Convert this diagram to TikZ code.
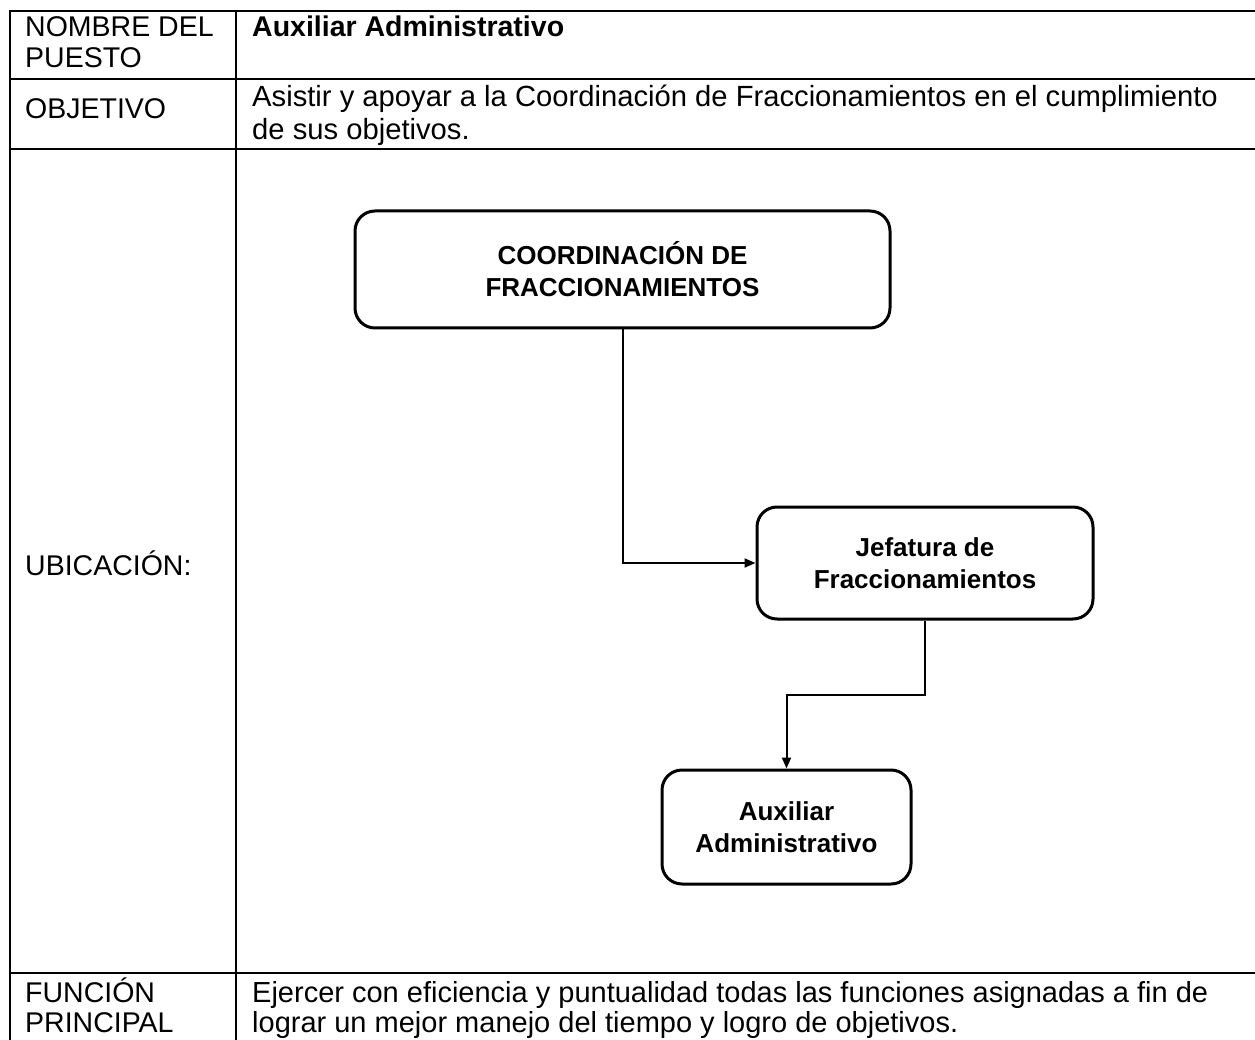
\documentclass[tikz,border=0pt]{standalone}
\usepackage{fontspec}
\setmainfont{Liberation Sans}
\usetikzlibrary{arrows.meta,calc}

\begin{document}
\begin{tikzpicture}[x=1pt,y=-1pt,
    caja/.style={draw, line width=3pt, rounded corners=20pt, align=center,
      font=\fontsize{26}{32}\selectfont\bfseries},
    flecha/.style={line width=2pt, -{Triangle[length=11pt,width=9pt]}},
    celda/.style={anchor=base west, inner sep=0pt, align=left,
      font=\fontsize{28.5}{31}\selectfont},
    linea/.style={line width=2.2pt}]
  \useasboundingbox (0,0) rectangle (1255,1040);
  \clip (0,0) rectangle (1255,1040);

  % tabla
  \draw[linea] (10,1060) -- (10,11) -- (1270,11);
  \draw[linea] (236,11) -- (236,1060);
  \foreach \y in {79,149,973}
    \draw[linea] (10,\y) -- (1270,\y);

  % textos de la tabla (anclados en la linea base de la ultima linea)
  \node[celda] (nombre) at (25,68) {NOMBRE DEL\\PUESTO};
  \node[celda] (puesto) at (252,37) {\textbf{Auxiliar Administrativo}};
  \node[celda] (objetivo) at (25,119) {OBJETIVO};
  \node[celda, font=\fontsize{29.2}{33}\selectfont] (objtxt) at (252,140) {Asistir y apoyar a la Coordinación de Fraccionamientos en el cumplimiento\\de sus objetivos.};
  \node[celda] (ubicacion) at (25,575) {UBICACIÓN:};
  \node[celda, font=\fontsize{28.5}{30}\selectfont] (funcion) at (25,1032) {FUNCIÓN\\PRINCIPAL};
  \node[celda, font=\fontsize{29}{30}\selectfont] (funtxt) at (252,1032) {Ejercer con eficiencia y puntualidad todas las funciones asignadas a fin de\\lograr un mejor manejo del tiempo y logro de objetivos.};

  % organigrama
  \node[caja, minimum width=535pt, minimum height=117pt] (coord) at (622.5,269.5) {COORDINACIÓN DE\\FRACCIONAMIENTOS};
  \node[caja, minimum width=336pt, minimum height=112pt] (jefe) at (925,563) {Jefatura de\\Fraccionamientos};
  \node[caja, minimum width=249pt, minimum height=114pt] (aux) at (786.5,827) {Auxiliar\\Administrativo};

  \draw[flecha] (coord.south) |- (jefe.west);
  \draw[flecha] (jefe.south) |- ($(jefe.south)!.5!(aux.north)$) -| (aux.north);
\end{tikzpicture}
\end{document}
